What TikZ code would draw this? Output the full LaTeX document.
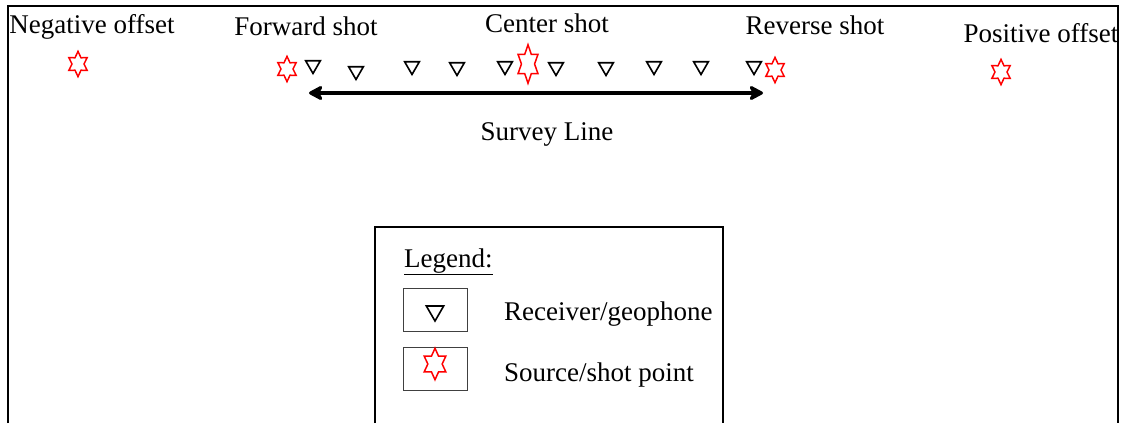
\documentclass[tikz,border=0pt]{standalone}
\usepackage{fontspec}
\setmainfont{Liberation Serif}
\usetikzlibrary{shapes.geometric, arrows.meta}

\begin{document}
\begin{tikzpicture}[x=1pt, y=-1pt,
    shot/.style={star, star points=6, star point ratio=1.75, draw=red, line width=1.5pt, inner sep=0pt, minimum size=21pt, yscale=1.2, transform shape},
    receiver/.style={regular polygon, regular polygon sides=3, shape border rotate=180, draw, line width=1.6pt, inner sep=0pt, minimum size=17pt},
    keybox/.style={rectangle, draw=black!75, line width=0.9pt, minimum width=64pt, minimum height=43pt, inner sep=0pt},
    lbl/.style={font=\fontsize{27}{32}\selectfont, inner sep=0pt}]
    \useasboundingbox (0,0) rectangle (1129,423);

    % frame
    \draw [line width=2.8pt] (8,423) -- (8,6) -- (1118,6) -- (1118,423);

    \begin{scope}[every node/.style={lbl, anchor=base}]
      \node (neg) at (92,33) {Negative offset};
      \node (fwd) at (306,35) {Forward shot};
      \node (ctr) at (547,32) {Center shot};
      \node (rev) at (815,34) {Reverse shot};
      \node (pos) at (1041,42) {Positive offset};
      \node (svy) at (547,140) {Survey Line};
    \end{scope}

    % shot points
    \node [shot] (s0) at (78,64) {};
    \node [shot] (s1) at (287,69) {};
    \node [shot, minimum size=23pt, yscale=1.4] (s2) at (528,64) {};
    \node [shot] (s3) at (775,70) {};
    \node [shot] (s4) at (1001,72) {};

    % receivers
    \begin{scope}[every node/.style={receiver}]
      \node (r1) at (313,65) {};
      \node (r2) at (356,71) {};
      \node (r3) at (412,66) {};
      \node (r4) at (457,67) {};
      \node (r5) at (505,66) {};
      \node (r6) at (556,67) {};
      \node (r7) at (606,67) {};
      \node (r8) at (654,66) {};
      \node (r9) at (701,66) {};
      \node (r10) at (754,66) {};
    \end{scope}

    \coordinate (la) at (309,93);
    \coordinate (ra) at (763,93);
    \draw [<->, >={Stealth[length=17pt, width=18pt, inset=5pt, round]}, line width=4.8pt] (la) -- (ra);

    % legend
    \draw [line width=2.8pt] (375,423) -- (375,227) -- (723,227) -- (723,423);
    \node [lbl, anchor=base west] (leg) at (404,267) {\underline{Legend:}};
    \node [keybox] (k1) at (435,309.5) {};
    \node [keybox] (k2) at (435,368.5) {};
    \node [receiver, minimum size=20pt] (kr) at (435,311) {};
    \node [shot, minimum size=25pt, yscale=1.05] (ks) at (435,364) {};
    \node [lbl, anchor=base west] (t1) at (504,320) {Receiver/geophone};
    \node [lbl, anchor=base west] (t2) at (504,381) {Source/shot point};
\end{tikzpicture}
\end{document}
